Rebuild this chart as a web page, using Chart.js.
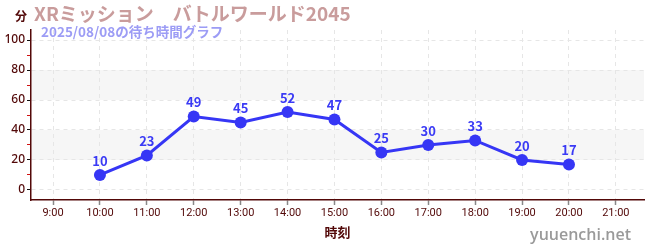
<!DOCTYPE html>
<html lang="ja">
<head>
<meta charset="UTF-8" />
<title>XRミッション バトルワールド2045</title>
<script src="https://cdn.jsdelivr.net/npm/chart.js"></script>
<style>
  html, body { margin: 0; padding: 0; background: #fff; }
  #wrap { width: 650px; height: 250px; position: relative; }
</style>
</head>
<body>
<div id="wrap"><canvas id="waitChart" width="650" height="250"></canvas></div>
<script>
  const hours = [9, 10, 11, 12, 13, 14, 15, 16, 17, 18, 19, 20, 21];
  const hourLabels = ['9:00', '10:00', '11:00', '12:00', '13:00', '14:00', '15:00', '16:00', '17:00', '18:00', '19:00', '20:00', '21:00'];
  const waitTimes = [null, 10, 23, 49, 45, 52, 47, 25, 30, 33, 20, 17, null];
  const yTicks = [0, 10, 20, 30, 40, 50, 60, 70, 80, 90, 100];
  const bandRanges = [[20, 40], [60, 80]];

  const jp = '"Noto Sans CJK JP", "Noto Sans", sans-serif';
  const maroon = '#520808';

  const points = hours.map((h, i) => ({ x: h, y: waitTimes[i] })).filter(p => p.y !== null);

  // gray stripes behind the grid
  const bands = {
    id: 'bands',
    beforeDraw(chart) {
      const { ctx, chartArea: a, scales: { y } } = chart;
      ctx.save();
      ctx.fillStyle = '#f6f6f6';
      bandRanges.forEach(([lo, hi]) => {
        const top = y.getPixelForValue(hi), bot = y.getPixelForValue(lo);
        ctx.fillRect(a.left, top, a.right - a.left, bot - top);
      });
      ctx.restore();
    }
  };

  // titles, value labels, watermark
  const texts = {
    id: 'texts',
    afterDatasetsDraw(chart) {
      const { ctx } = chart;
      const meta = chart.getDatasetMeta(0);
      ctx.save();
      ctx.font = 'bold 13px ' + jp;
      ctx.fillStyle = '#3a3af5';
      ctx.textAlign = 'center';
      ctx.textBaseline = 'alphabetic';
      meta.data.forEach((pt, i) => {
        ctx.fillText(String(points[i].y), pt.x, pt.y - 9);
      });
      ctx.restore();
    },
    afterDraw(chart) {
      const { ctx, chartArea: a } = chart;
      ctx.save();
      ctx.textBaseline = 'alphabetic';
      ctx.textAlign = 'left';
      ctx.font = 'bold 19px ' + jp;
      ctx.fillStyle = '#c99c9c';
      ctx.fillText('XRミッション　バトルワールド2045', 34, 21);
      ctx.font = 'bold 13.5px ' + jp;
      ctx.fillStyle = '#9c9cf5';
      ctx.fillText('2025/08/08の待ち時間グラフ', 41, 37);
      ctx.font = 'bold 12px ' + jp;
      ctx.fillStyle = maroon;
      ctx.fillText('分', 15, 21);
      ctx.textAlign = 'center';
      ctx.font = 'bold 13px ' + jp;
      ctx.fillText('時刻', (a.left + a.right) / 2, 237);
      ctx.textAlign = 'right';
      ctx.font = '600 16px "Open Sans", sans-serif';
      ctx.fillStyle = '#9a9a9a';
      ctx.fillText('yuuenchi.net', 631, 240);
      ctx.restore();
    }
  };

  new Chart(document.getElementById('waitChart'), {
    type: 'line',
    data: {
      datasets: [{
        data: points,
        borderColor: '#3636f5',
        backgroundColor: '#3636f5',
        borderWidth: 3,
        pointRadius: 6,
        pointBackgroundColor: '#3636f5',
        pointBorderWidth: 0,
        tension: 0
      }]
    },
    options: {
      responsive: false,
      animation: false,
      layout: { padding: { top: 30, right: 5, left: 0, bottom: 0 } },
      plugins: { legend: { display: false }, tooltip: { enabled: false } },
      scales: {
        x: {
          type: 'linear',
          min: 8.53,
          max: 21.6,
          afterBuildTicks(scale) { scale.ticks = hours.map(v => ({ value: v })); },
          afterFit(scale) { scale.height = 50; },
          ticks: {
            autoSkip: false,
            maxRotation: 0,
            padding: 2,
            color: maroon,
            font: { family: '"Liberation Sans Narrow", "Roboto", sans-serif', size: 11 },
            callback: (v) => hourLabels[hours.indexOf(v)]
          },
          grid: {
            color: '#e6e6e6',
            tickColor: '#888',
            tickLength: 5,
            tickWidth: 1.5
          },
          border: { color: maroon, width: 1.5, dash: [4, 4] }
        },
        y: {
          min: -6.7,
          max: 106.7,
          afterBuildTicks(scale) { scale.ticks = yTicks.map(v => ({ value: v })); },
          afterFit(scale) { scale.width = 31; },
          ticks: {
            autoSkip: false,
            padding: 2,
            color: maroon,
            font: { family: '"Noto Sans", sans-serif', size: 12, weight: '500' },
            callback: (v) => (v % 20 === 0 ? String(v) : '')
          },
          grid: {
            color: (c) => (c.tick && c.tick.value % 20 === 0 ? '#e6e6e6' : 'rgba(0,0,0,0)'),
            tickColor: (c) => (c.tick && c.tick.value % 20 === 0 ? '#111' : '#d01010'),
            tickLength: 4,
            tickWidth: 1
          },
          border: { color: maroon, width: 1.5, dash: [4, 4] }
        }
      }
    },
    plugins: [bands, texts]
  });
</script>
</body>
</html>
